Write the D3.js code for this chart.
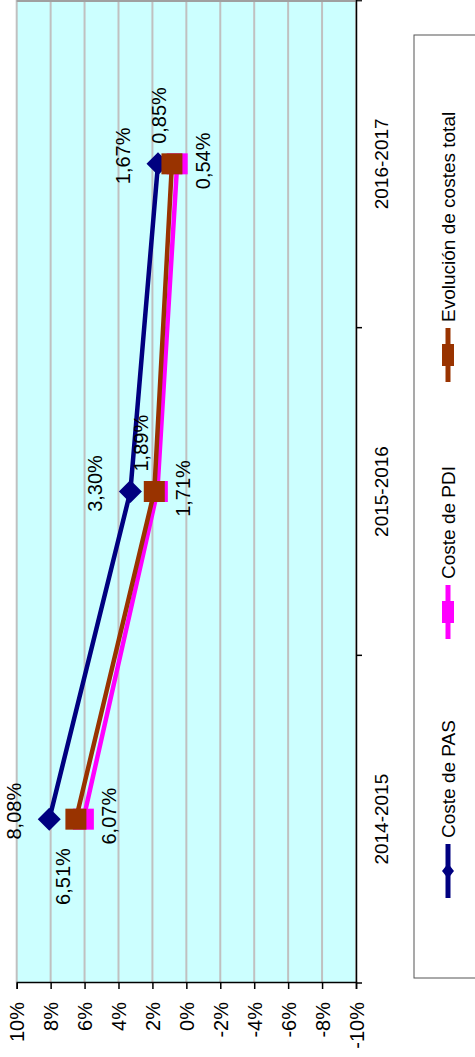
<!DOCTYPE html>
<html><head><meta charset="utf-8">
<script src="https://cdn.jsdelivr.net/npm/d3@7/dist/d3.min.js"></script>
<style>body{margin:0;background:#fff}svg{display:block}</style>
</head><body>
<script>
const categories = ["2014-2015", "2015-2016", "2016-2017"];
const pasValues = [8.08, 3.30, 1.67];
const pdiValues = [6.07, 1.71, 0.54];
const totalValues = [6.51, 1.89, 0.85];
const valueTicks = [10, 8, 6, 4, 2, 0, -2, -4, -6, -8, -10];
const seriesNames = ["Coste de PAS", "Coste de PDI", "Evolución de costes total"];

const W = 475, H = 1057;
const svg = d3.select("body").append("svg").attr("width", W).attr("height", H);
// chart drawn in a rotated frame: u along categories, v along values
const g = svg.append("g").attr("transform", `translate(0,${H}) rotate(-90)`);
const font = "'Liberation Sans', Arial, sans-serif";

const uMin = 74, uMax = 1057;
const vTop = 16.7, vBot = 356;
const y = d3.scaleLinear().domain([10, -10]).range([vTop, vBot]);
const xBand = d3.scaleBand().domain(categories).range([uMin, uMax]);
const x = d3.scalePoint().domain(categories).range([uMin, uMax]).padding(0.5);

// plot background
g.append("rect").attr("x", uMin).attr("y", vTop).attr("width", uMax - uMin).attr("height", vBot - vTop)
  .attr("fill", "#ccffff");
// gridlines
g.selectAll(".grid").data(valueTicks).enter().append("line")
  .attr("x1", uMin).attr("x2", uMax).attr("y1", d => y(d)).attr("y2", d => y(d))
  .attr("stroke", "#c0c0c0").attr("stroke-width", 2);
// plot top border (right side in rotated frame)
g.append("line").attr("x1", uMax - 1).attr("x2", uMax - 1).attr("y1", vTop).attr("y2", vBot + 6)
  .attr("stroke", "#a0a0a0").attr("stroke-width", 2);

// value axis
const vAxis = g.append("g").attr("transform", `translate(${uMin},0)`)
  .call(d3.axisLeft(y).tickValues(valueTicks).tickSize(6).tickFormat(d => d + "%"));
vAxis.select(".domain").attr("stroke", "#000").attr("stroke-width", 1.5);
vAxis.selectAll(".tick line").attr("stroke", "#000").attr("stroke-width", 1.5);
vAxis.selectAll(".tick text").attr("font-family", font).attr("font-size", 20).attr("fill", "#000")
  .attr("x", -19).attr("dy", "0.36em");

// category axis
const cAxis = g.append("g").attr("transform", `translate(0,${vBot})`)
  .call(d3.axisBottom(xBand).tickSize(0).tickFormat(d => d));
cAxis.select(".domain").attr("stroke", "#000").attr("stroke-width", 1.5);
cAxis.selectAll(".tick text").attr("font-family", font).attr("font-size", 19).attr("fill", "#000")
  .attr("y", 32).attr("dy", 0);
const bounds = [0, 1, 2, 3].map(i => uMin + i * xBand.step());
g.selectAll(".ctick").data(bounds).enter().append("line")
  .attr("x1", d => d).attr("x2", d => d).attr("y1", vBot).attr("y2", vBot + 6)
  .attr("stroke", "#000").attr("stroke-width", 1.5);

const series = [
  {name: seriesNames[0], values: pasValues, color: "#000080", marker: "diamond"},
  {name: seriesNames[1], values: pdiValues, color: "#ff00ff", marker: "square"},
  {name: seriesNames[2], values: totalValues, color: "#993300", marker: "square"}
];
const line = d3.line().x((d, i) => x(categories[i])).y(d => y(d));

function drawMarker(sel, type, cx, cy, w, h, color) {
  if (type === "diamond") {
    sel.append("path").attr("d", `M${cx - w / 2},${cy} L${cx},${cy - h / 2} L${cx + w / 2},${cy} L${cx},${cy + h / 2} Z`)
      .attr("fill", color);
  } else {
    sel.append("rect").attr("x", cx - w / 2).attr("y", cy - h / 2).attr("width", w).attr("height", h).attr("fill", color);
  }
}

series.forEach(s => {
  g.append("path").datum(s.values).attr("d", line).attr("fill", "none")
    .attr("stroke", s.color).attr("stroke-width", 4.5);
  s.values.forEach((v, i) => {
    const cx = x(categories[i]), cy = y(v);
    if (s.marker === "diamond") drawMarker(g, "diamond", cx, cy, 23, 23, s.color);
    else drawMarker(g, "square", cx, cy, 21, 21, s.color);
  });
});

// data labels
const fmt = v => v.toFixed(2).replace(".", ",") + "%";
const lbl = g.append("g").attr("font-family", font).attr("font-size", 20).attr("fill", "#000");
pasValues.forEach((v, i) => {
  lbl.append("text").attr("x", x(categories[i]) + 8).attr("y", y(v) - 28)
    .attr("text-anchor", "middle").text(fmt(v));
});
pdiValues.forEach((v, i) => {
  lbl.append("text").attr("x", x(categories[i]) + 3).attr("y", y(v) + 33)
    .attr("text-anchor", "middle").text(fmt(v));
});
totalValues.forEach((v, i) => {
  const left = i === 0;
  lbl.append("text").attr("x", x(categories[i]) + (left ? -29 : 20)).attr("y", y(v) - 6)
    .attr("text-anchor", left ? "end" : "start").text(fmt(v));
});

// legend
const lg = g.append("g");
lg.append("rect").attr("x", 79).attr("y", 414).attr("width", 943).attr("height", 80)
  .attr("fill", "#fff").attr("stroke", "#555").attr("stroke-width", 1);
const legendCenters = [186, 445, 702];
series.forEach((s, i) => {
  const c = legendCenters[i], vy = 448;
  lg.append("line").attr("x1", c - 27).attr("x2", c + 27).attr("y1", vy).attr("y2", vy)
    .attr("stroke", s.color).attr("stroke-width", 5);
  if (s.marker === "diamond") drawMarker(lg, "diamond", c, vy, 15, 12, s.color);
  else drawMarker(lg, "square", c, vy, 22, 12, s.color);
  lg.append("text").attr("x", c + 33).attr("y", vy + 7).attr("font-family", font).attr("font-size", 19)
    .attr("fill", "#000").text(s.name);
});
</script>
</body></html>
